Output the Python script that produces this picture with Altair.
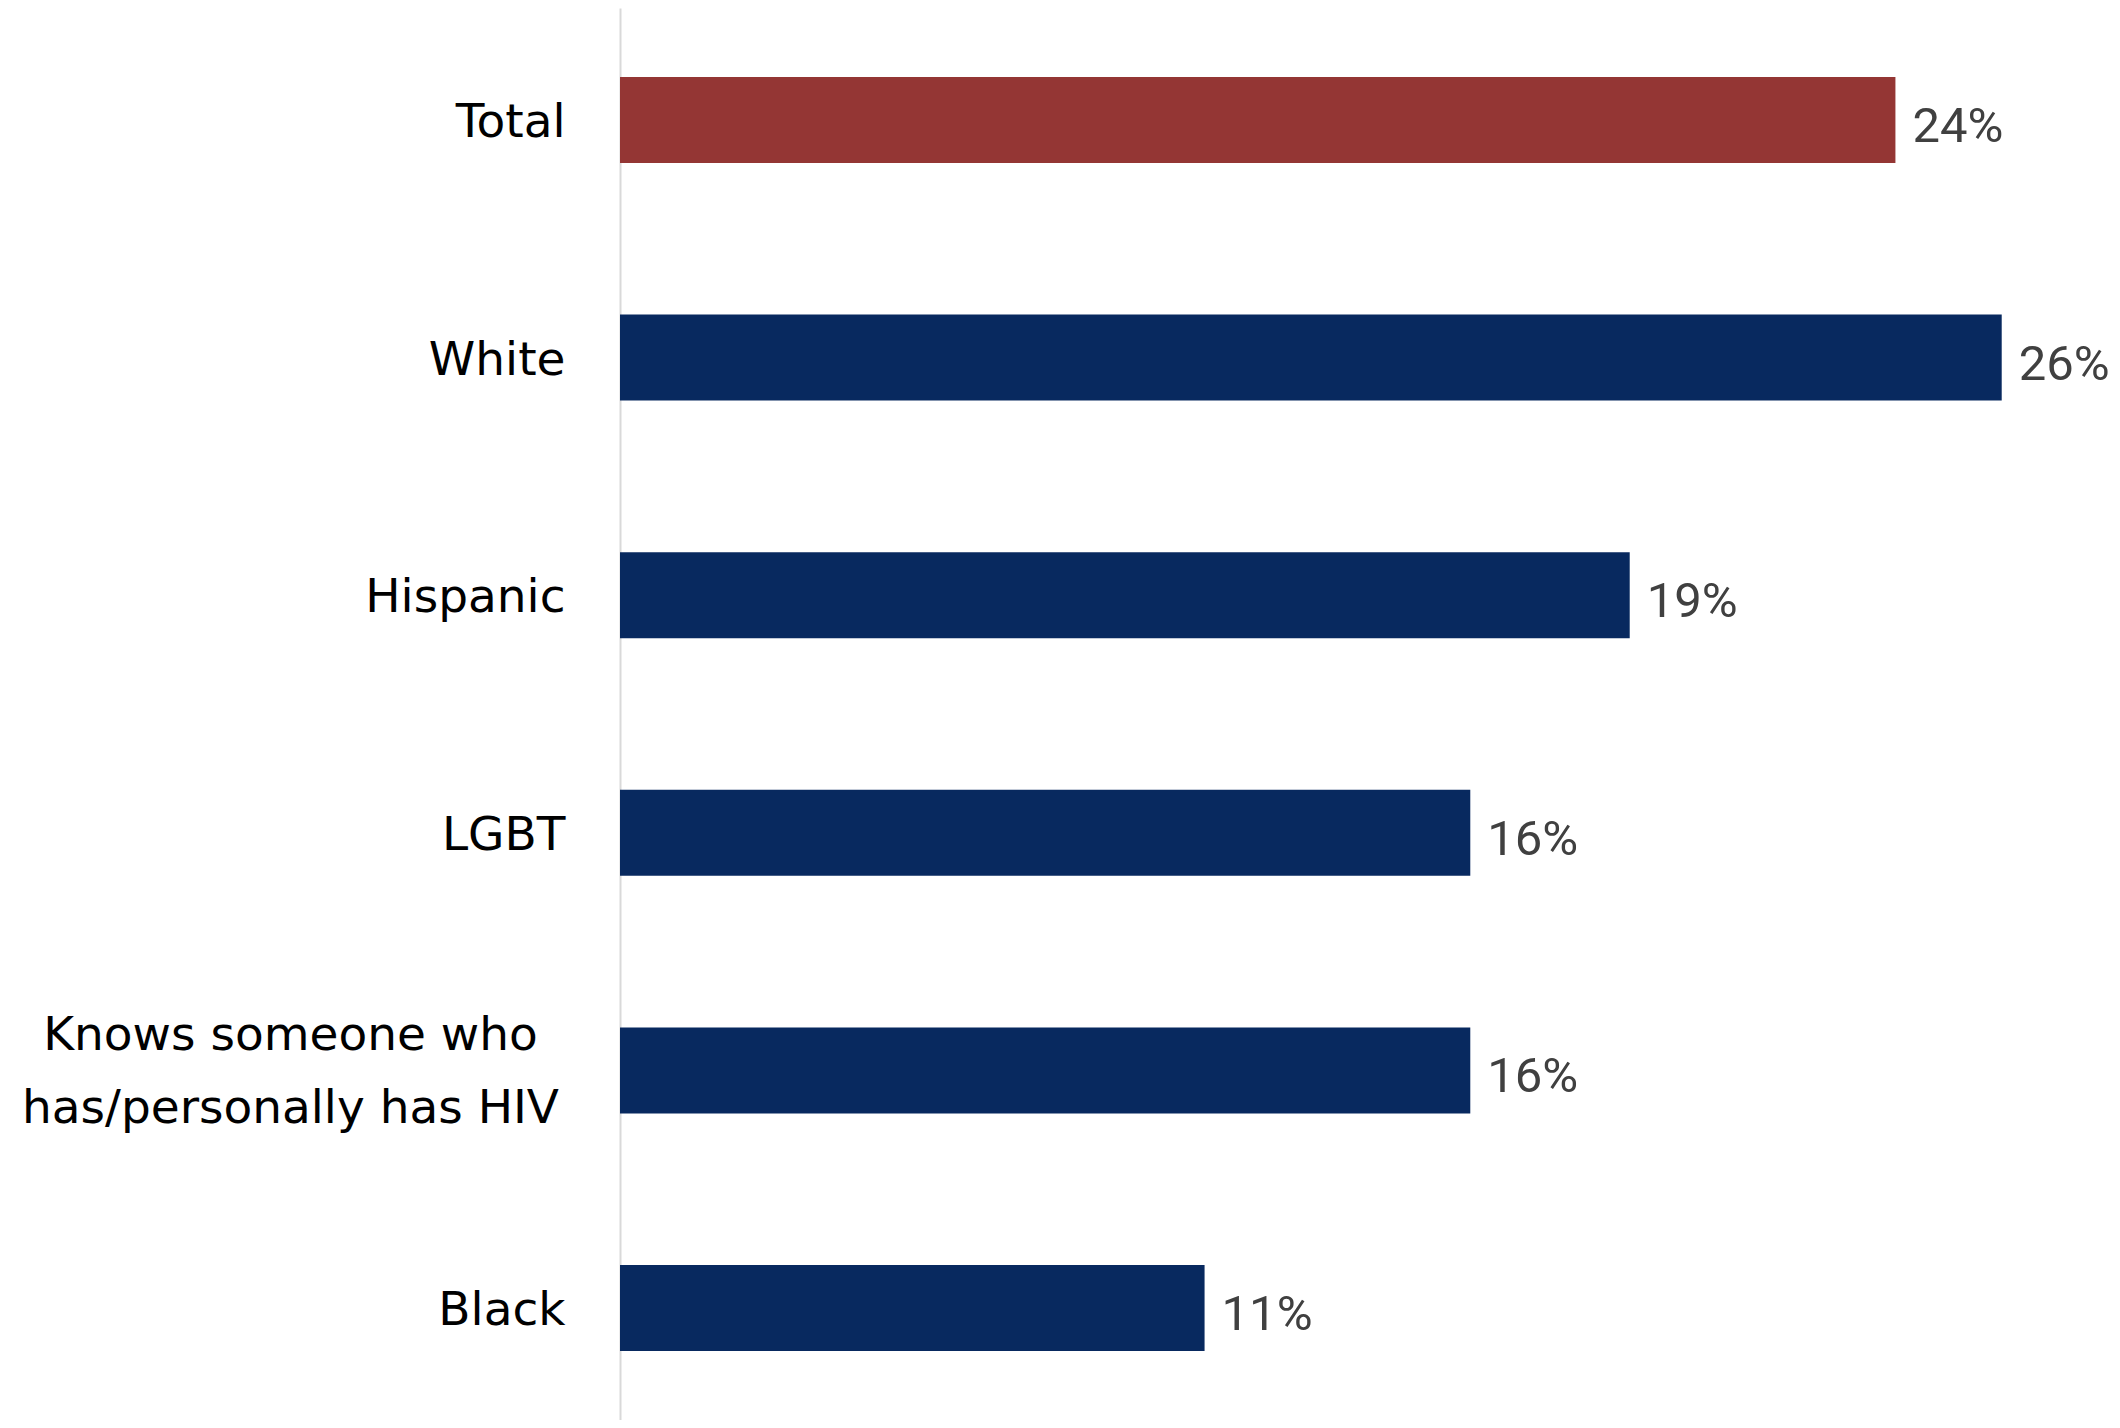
import altair as alt
import pandas as pd

categories = ["Total", "White", "Hispanic", "LGBT",
              "Knows someone who has/personally has HIV", "Black"]
values = [24, 26, 19, 16, 16, 11]
groups = ["Total", "Group", "Group", "Group", "Group", "Group"]
value_labels = ["24%", "26%", "19%", "16%", "16%", "11%"]

df = pd.DataFrame({"category": categories, "value": values,
                   "group": groups, "label": value_labels})

long_label = "Knows someone who has/personally has HIV"
is_long = f"datum.value == '{long_label}'"

y_enc = alt.Y(
    "category:N",
    sort=categories,
    scale=alt.Scale(paddingInner=0.638, paddingOuter=0.29),
    axis=alt.Axis(
        title=None,
        ticks=False,
        tickSize=0,
        grid=False,
        domain=True,
        domainColor="#D9D9D9",
        domainWidth=2,
        labelFont="DejaVu Sans",
        labelFontSize=47,
        labelColor="#000000",
        labelLimit=0,
        labelLineHeight=73,
        labelBaseline="middle",
        labelAlign=alt.condition(is_long, alt.value("center"), alt.value("right")),
        labelPadding=alt.condition(is_long, alt.value(330), alt.value(55)),
        labelOffset=alt.condition(is_long, alt.value(-34), alt.value(3)),
        labelExpr=f"{is_long} ? ['Knows someone who', 'has/personally has HIV'] : datum.value",
        minExtent=612,
        maxExtent=612,
    ),
)

x_enc = alt.X("value:Q", scale=alt.Scale(domain=[0, 28], nice=False), axis=None)

bars = alt.Chart(df).mark_bar().encode(
    x=x_enc,
    y=y_enc,
    color=alt.Color("group:N",
                    scale=alt.Scale(domain=["Total", "Group"],
                                    range=["#943634", "#08295F"]),
                    legend=None),
)

text = alt.Chart(df).mark_text(
    align="left", baseline="middle", dx=17, dy=7,
    font="Roboto", fontSize=49, color="#404040",
).encode(
    x=x_enc,
    y=alt.Y("category:N", sort=categories),
    text="label:N",
)

chart = (bars + text).properties(
    width=1488, height=1412,
    padding={"left": 0, "top": 0, "right": 0, "bottom": 0},
    background="white",
).configure_view(stroke=None)

chart.save("out.html", embed_options={"renderer": "svg", "actions": False})
